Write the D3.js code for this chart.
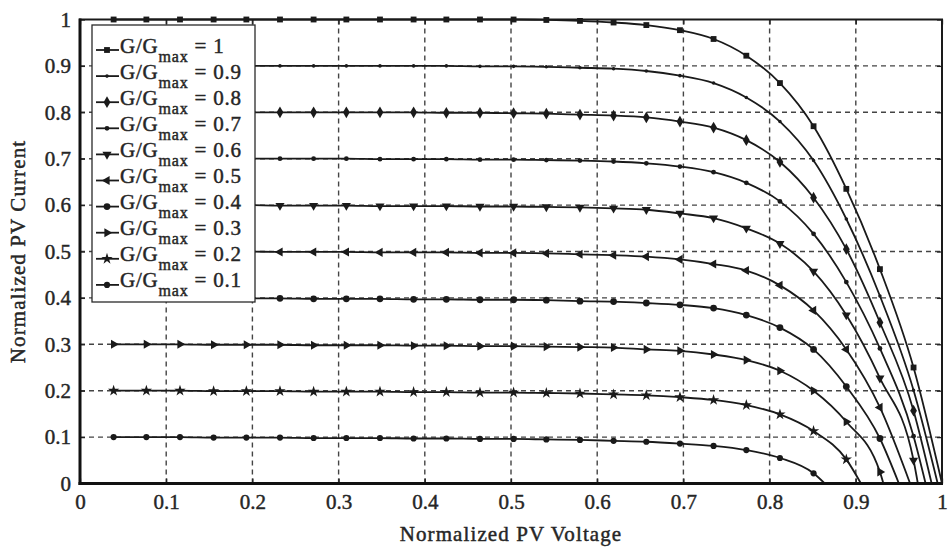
<!DOCTYPE html>
<html>
<head>
<meta charset="utf-8">
<script src="https://cdn.jsdelivr.net/npm/d3@7"></script>
<style>
  body { margin: 0; background: #fff; }
  text { font-family: "Liberation Serif", "DejaVu Serif", serif; fill: #262626; stroke: #262626; stroke-width: 0.45px; }
</style>
</head>
<body>
<div id="chart"></div>
<script>
// voltage points where markers sit (normalized)
var voltage = [0.039, 0.077, 0.116, 0.155, 0.193, 0.232, 0.271, 0.309, 0.348, 0.387,
  0.425, 0.464, 0.503, 0.541, 0.580, 0.619, 0.657, 0.696, 0.735, 0.773,
  0.812, 0.851, 0.889, 0.928, 0.967];

var levels = ["1", "0.9", "0.8", "0.7", "0.6", "0.5", "0.4", "0.3", "0.2", "0.1"];

// open circuit voltage of each curve (where current reaches 0)
var voc = [1.0, 0.995, 0.988, 0.981, 0.972, 0.963, 0.950, 0.932, 0.906, 0.864];

var cur10 = [1, 1, 1, 1, 1, 1, 1, 1, 1, 1, 1, 1, 1, 0.999, 0.997, 0.9935, 0.988, 0.977, 0.958, 0.922, 0.863, 0.770, 0.635, 0.462, 0.250];
var cur09 = [0.9, 0.9, 0.9, 0.9, 0.9, 0.9, 0.9, 0.9, 0.9, 0.9, 0.9, 0.899, 0.899, 0.898, 0.896, 0.894, 0.889, 0.879, 0.863, 0.832, 0.780, 0.696, 0.570, 0.404, 0.201];
var cur08 = [0.8, 0.8, 0.8, 0.8, 0.8, 0.8, 0.8, 0.8, 0.8, 0.8, 0.799, 0.799, 0.798, 0.797, 0.795, 0.793, 0.789, 0.780, 0.767, 0.740, 0.693, 0.616, 0.505, 0.347, 0.157];
var cur07 = [0.7, 0.7, 0.7, 0.7, 0.7, 0.7, 0.7, 0.7, 0.699, 0.699, 0.699, 0.698, 0.698, 0.697, 0.696, 0.694, 0.690, 0.683, 0.671, 0.648, 0.608, 0.538, 0.434, 0.291, 0.102];
var cur06 = [0.6, 0.6, 0.6, 0.6, 0.6, 0.599, 0.599, 0.599, 0.598, 0.598, 0.598, 0.597, 0.597, 0.596, 0.595, 0.593, 0.590, 0.582, 0.572, 0.550, 0.517, 0.457, 0.363, 0.227, 0.050];
var cur05 = [0.5, 0.5, 0.5, 0.5, 0.5, 0.499, 0.499, 0.499, 0.498, 0.498, 0.498, 0.497, 0.497, 0.496, 0.494, 0.492, 0.489, 0.483, 0.473, 0.459, 0.427, 0.373, 0.289, 0.164];
var cur04 = [0.4, 0.4, 0.4, 0.399, 0.399, 0.399, 0.398, 0.398, 0.398, 0.397, 0.397, 0.396, 0.396, 0.395, 0.393, 0.392, 0.389, 0.385, 0.378, 0.363, 0.336, 0.289, 0.209, 0.097];
var cur03 = [0.3, 0.3, 0.3, 0.299, 0.299, 0.299, 0.298, 0.298, 0.298, 0.297, 0.297, 0.296, 0.296, 0.295, 0.294, 0.293, 0.289, 0.286, 0.278, 0.266, 0.243, 0.200, 0.133, 0.025];
var cur02 = [0.2, 0.2, 0.2, 0.199, 0.199, 0.199, 0.198, 0.198, 0.198, 0.197, 0.197, 0.196, 0.196, 0.195, 0.194, 0.192, 0.190, 0.186, 0.180, 0.169, 0.149, 0.113, 0.052];
var cur01 = [0.1, 0.1, 0.1, 0.099, 0.099, 0.099, 0.098, 0.098, 0.098, 0.097, 0.097, 0.096, 0.096, 0.095, 0.094, 0.092, 0.090, 0.086, 0.081, 0.072, 0.055, 0.022];

var currents = [cur10, cur09, cur08, cur07, cur06, cur05, cur04, cur03, cur02, cur01];
var ticks = [0, 0.1, 0.2, 0.3, 0.4, 0.5, 0.6, 0.7, 0.8, 0.9, 1];

// marker for each curve: symbol type, area, rotation
var markers = [
  { type: d3.symbolSquare, size: 34, rot: 0 },
  { type: d3.symbolCircle, size: 10, rot: 0 },
  { type: d3.symbolDiamond, size: 40, rot: 0 },
  { type: d3.symbolCircle, size: 18, rot: 0 },
  { type: d3.symbolTriangle, size: 36, rot: 180 },
  { type: d3.symbolTriangle, size: 36, rot: -90 },
  { type: d3.symbolCircle, size: 36, rot: 0 },
  { type: d3.symbolTriangle, size: 36, rot: 90 },
  { type: d3.symbolStar, size: 40, rot: 0 },
  { type: d3.symbolCircle, size: 30, rot: 0 }
];

var width = 951, height = 552;
var plotLeft = 80, plotRight = 942, plotTop = 19.5, plotBottom = 483.5;

var svg = d3.select("#chart").append("svg")
  .attr("width", width)
  .attr("height", height);

var x = d3.scaleLinear().domain([0, 1]).range([plotLeft, plotRight]);
var y = d3.scaleLinear().domain([0, 1]).range([plotBottom, plotTop]);

// grid
var grid = svg.append("g")
  .attr("stroke", "#444")
  .attr("stroke-width", 1.4)
  .attr("stroke-dasharray", "5,4");

grid.selectAll(".vg")
  .data(ticks.slice(1, -1))
  .enter().append("line")
  .attr("x1", function(d) { return x(d); })
  .attr("x2", function(d) { return x(d); })
  .attr("y1", y(0))
  .attr("y2", y(1));

grid.selectAll(".hg")
  .data(ticks.slice(1, -1))
  .enter().append("line")
  .attr("x1", x(0))
  .attr("x2", x(1))
  .attr("y1", function(d) { return y(d); })
  .attr("y2", function(d) { return y(d); });

// axes with inward ticks
var fmt = d3.format("~g");

var xAxis = svg.append("g")
  .attr("transform", "translate(0," + plotBottom + ")")
  .call(d3.axisBottom(x).tickValues(ticks).tickFormat(fmt).tickSizeInner(-5).tickSizeOuter(0).tickPadding(11));

var yAxis = svg.append("g")
  .attr("transform", "translate(" + plotLeft + ",0)")
  .call(d3.axisLeft(y).tickValues(ticks).tickFormat(fmt).tickSizeInner(-5).tickSizeOuter(0).tickPadding(9));

svg.append("g")
  .attr("transform", "translate(0," + plotTop + ")")
  .call(d3.axisTop(x).tickValues(ticks).tickFormat("").tickSizeInner(-5).tickSizeOuter(0));

svg.append("g")
  .attr("transform", "translate(" + plotRight + ",0)")
  .call(d3.axisRight(y).tickValues(ticks).tickFormat("").tickSizeInner(-5).tickSizeOuter(0));

svg.selectAll(".domain").remove();
svg.selectAll(".tick line").attr("stroke", "#222").attr("stroke-width", 1.3);

svg.selectAll(".tick text")
  .style("font-size", "21px")
  .style("font-family", "Liberation Serif")
  .attr("fill", "#262626");

// curves
var line = d3.line()
  .x(function(d) { return x(d[0]); })
  .y(function(d) { return y(d[1]); })
  .curve(d3.curveMonotoneX);

currents.forEach(function(cur, i) {
  var pts = cur.map(function(v, k) { return [voltage[k], v]; });
  var linePts = pts.concat([[voc[i], 0]]);

  svg.append("path")
    .datum(linePts)
    .attr("fill", "none")
    .attr("stroke", "#1a1a1a")
    .attr("stroke-width", 1.8)
    .attr("d", line);

  var m = markers[i];
  svg.append("g").selectAll("path")
    .data(pts)
    .enter().append("path")
    .attr("d", d3.symbol().type(m.type).size(m.size))
    .attr("transform", function(d) {
      return "translate(" + x(d[0]) + "," + y(d[1]) + ") rotate(" + m.rot + ")";
    })
    .attr("fill", "#1a1a1a");
});

// frame
svg.append("rect")
  .attr("x", plotLeft)
  .attr("y", plotTop)
  .attr("width", plotRight - plotLeft)
  .attr("height", plotBottom - plotTop)
  .attr("fill", "none")
  .attr("stroke", "#1a1a1a")
  .attr("stroke-width", 2);

svg.append("line")
  .attr("x1", plotLeft).attr("x2", plotLeft)
  .attr("y1", plotTop - 1).attr("y2", plotBottom + 1.5)
  .attr("stroke", "#111").attr("stroke-width", 3);

svg.append("line")
  .attr("x1", plotLeft - 1.5).attr("x2", plotRight + 1)
  .attr("y1", plotBottom).attr("y2", plotBottom)
  .attr("stroke", "#111").attr("stroke-width", 3);

// legend
var legend = svg.append("g");

legend.append("rect")
  .attr("x", 92)
  .attr("y", 25)
  .attr("width", 163)
  .attr("height", 277)
  .attr("fill", "#fff")
  .attr("stroke", "#2a2a2a")
  .attr("stroke-width", 1.3);

var row = legend.selectAll(".row")
  .data(levels)
  .enter().append("g")
  .attr("transform", function(d, i) { return "translate(0," + (52.5 + i * 26.1) + ")"; });

row.append("line")
  .attr("x1", 96)
  .attr("x2", 119)
  .attr("y1", -2.5)
  .attr("y2", -2.5)
  .attr("stroke", "#1a1a1a")
  .attr("stroke-width", 1.8);

row.append("path")
  .attr("d", function(d, i) { return d3.symbol().type(markers[i].type).size(markers[i].size)(); })
  .attr("transform", function(d, i) { return "translate(107,-2.5) rotate(" + markers[i].rot + ")"; })
  .attr("fill", "#1a1a1a");

var label = row.append("text")
  .attr("x", 120)
  .attr("y", 0)
  .style("font-size", "21px")
  .style("letter-spacing", "0.8px");

label.append("tspan").text("G/G");
label.append("tspan").attr("dy", 9).style("font-size", "16px").text("max");
label.append("tspan").attr("dy", -9).text(function(d) { return " = " + d; });

// axis titles
svg.append("text")
  .attr("x", (plotLeft + plotRight) / 2)
  .attr("y", 541)
  .attr("text-anchor", "middle")
  .style("font-size", "21px")
  .style("letter-spacing", "1.1px")
  .text("Normalized PV Voltage");

svg.append("text")
  .attr("transform", "translate(25," + ((plotTop + plotBottom) / 2) + ") rotate(-90)")
  .attr("text-anchor", "middle")
  .style("font-size", "21px")
  .style("letter-spacing", "1.1px")
  .text("Normalized PV Current");
</script>
</body>
</html>
